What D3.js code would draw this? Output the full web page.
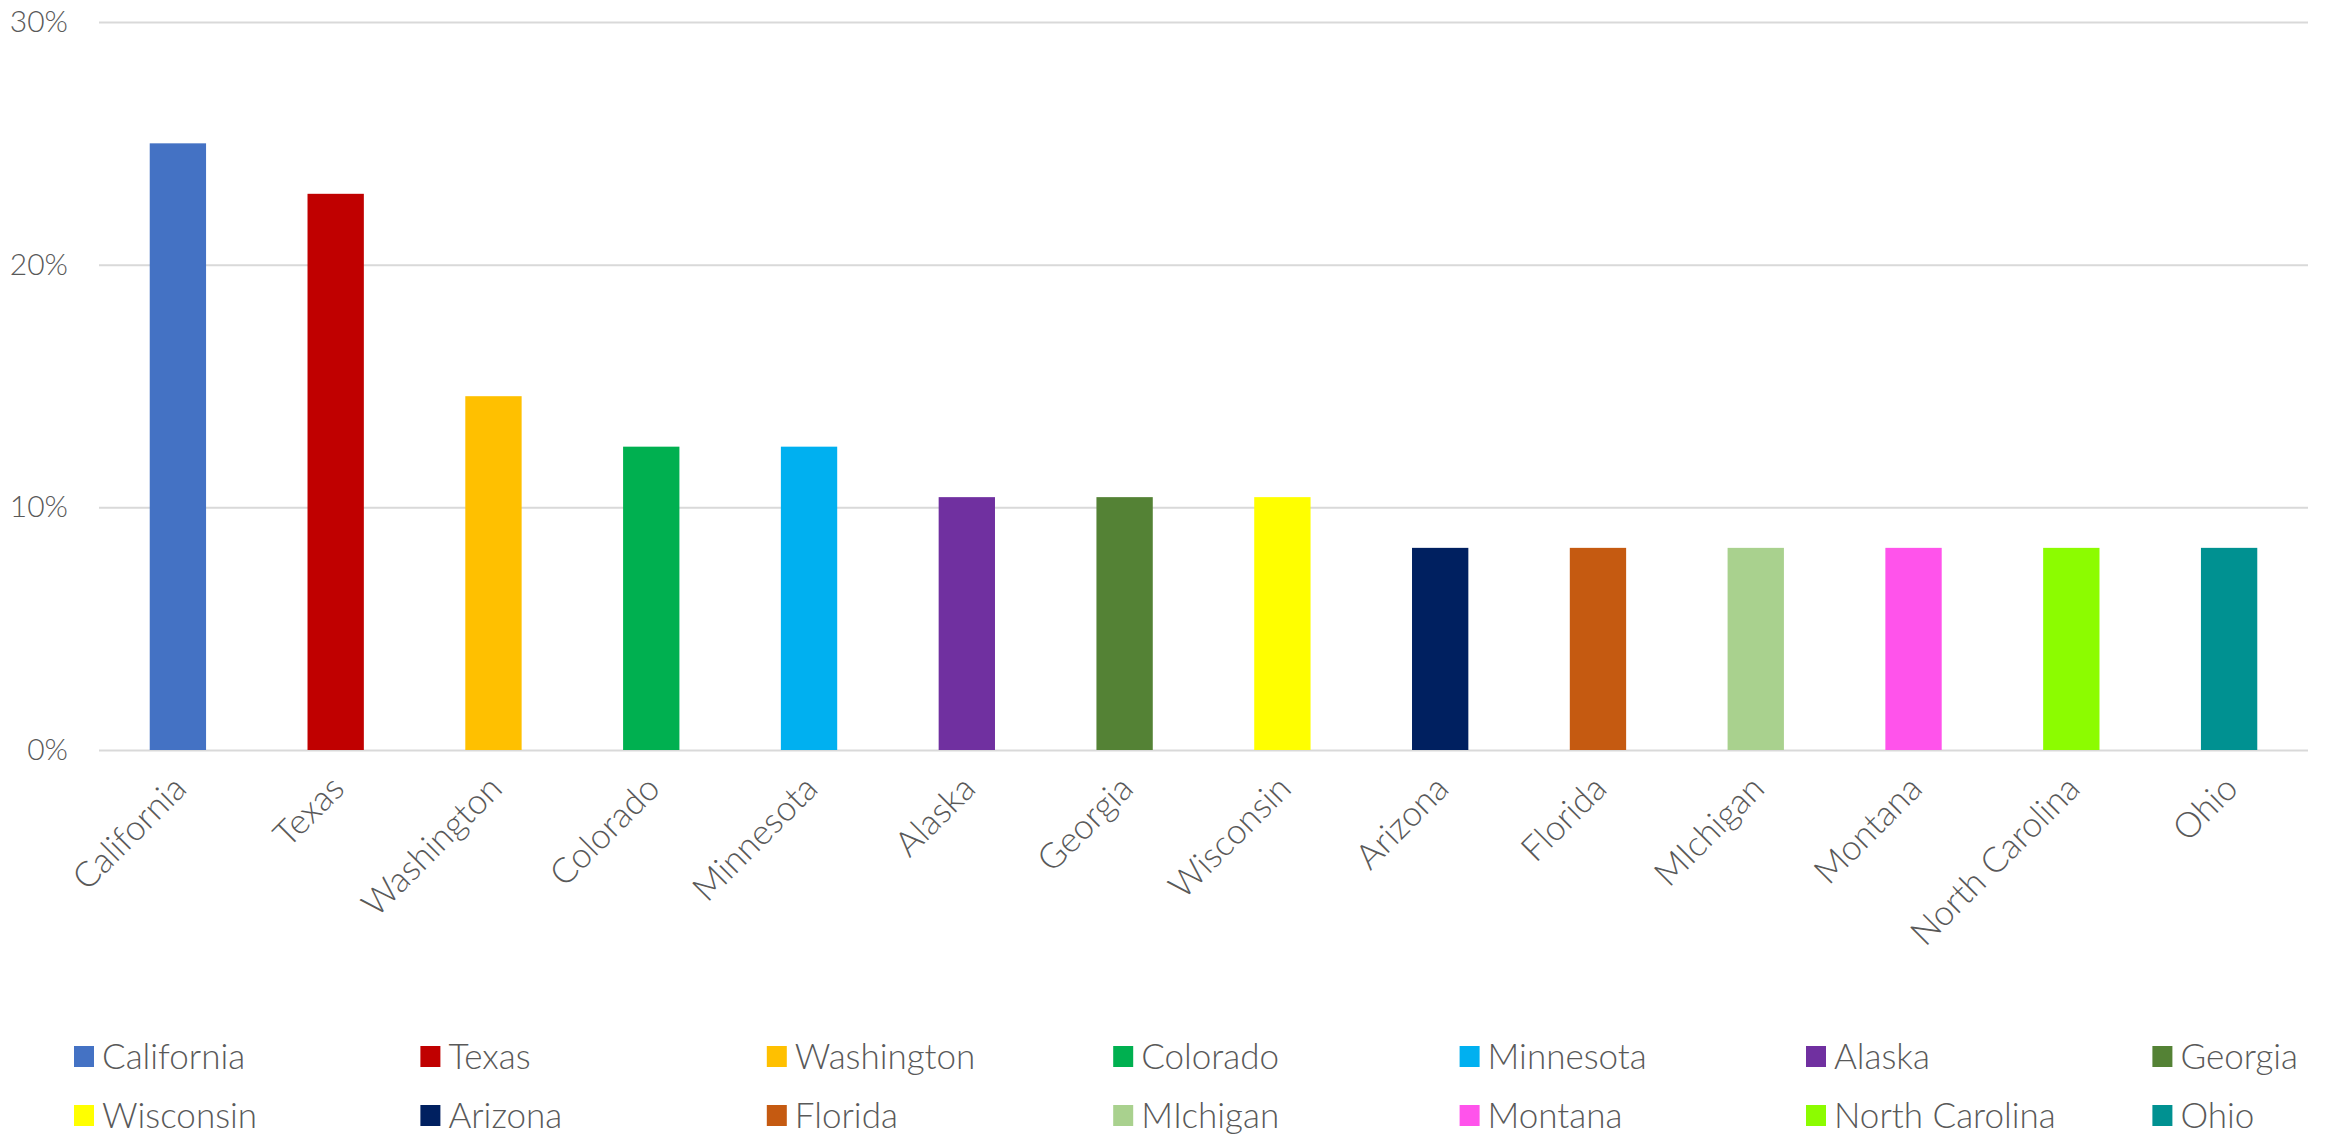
<!DOCTYPE html>
<html>
<head>
<meta charset="utf-8">
<script src="https://cdn.jsdelivr.net/npm/d3@7"></script>
<style>
  body { margin: 0; background: #fff; }
  text { font-family: Lato, "Open Sans", sans-serif; font-weight: 300; fill: #595959; }
</style>
</head>
<body>
<div id="chart"></div>
<script>
var states = ['California', 'Texas', 'Washington', 'Colorado', 'Minnesota', 'Alaska', 'Georgia',
	'Wisconsin', 'Arizona', 'Florida', 'MIchigan', 'Montana', 'North Carolina', 'Ohio'];
var shares = [25, 22.92, 14.58, 12.5, 12.5, 10.42, 10.42, 10.42, 8.33, 8.33, 8.33, 8.33, 8.33, 8.33];
var colors = ['#4472C4', '#C00000', '#FFC000', '#00B050', '#00B0F0', '#7030A0', '#548235',
	'#FFFF00', '#002060', '#C55A11', '#A9D18E', '#FF53EB', '#8CFC00', '#009191'];
var yTicks = [0, 10, 20, 30];

var width = 2326;
var height = 1134;
var plot = {left: 99, right: 2308, top: 22, bottom: 750};

var svg = d3.select("#chart").append("svg")
	.attr("width", width)
	.attr("height", height);

/* Scales */
var xScale = d3.scaleBand()
	.domain(states)
	.range([plot.left, plot.right])
	.paddingInner(0.643)
	.paddingOuter(0.3215);

var yScale = d3.scaleLinear()
	.domain([0, 30])
	.range([plot.bottom, plot.top]);

/* Gridlines + y labels */
var yAxis = d3.axisLeft(yScale)
	.tickValues(yTicks)
	.tickSize(-(plot.right - plot.left))
	.tickPadding(31)
	.tickFormat(d => d + "%");

var gy = svg.append("g")
	.attr("transform", `translate(${plot.left}, 0)`)
	.call(yAxis);
gy.select(".domain").remove();
gy.selectAll("line").attr("stroke", "#d9d9d9").attr("stroke-width", 2);
gy.selectAll("text").style("font-size", "30px").attr("fill", "#595959");

/* Bars */
svg.append("g").selectAll("rect")
	.data(states).enter()
	.append("rect")
	.attr("x", d => xScale(d))
	.attr("y", (d, i) => yScale(shares[i]))
	.attr("width", xScale.bandwidth())
	.attr("height", (d, i) => yScale(0) - yScale(shares[i]))
	.attr("fill", (d, i) => colors[i]);

/* x labels, rotated */
var xAxis = d3.axisBottom(xScale).tickSize(0).tickPadding(0);
var gx = svg.append("g")
	.attr("transform", `translate(0, ${plot.bottom})`)
	.call(xAxis);
gx.select(".domain").remove();
gx.selectAll("text")
	.style("font-size", "35px")
	.attr("fill", "#595959")
	.attr("text-anchor", "end")
	.attr("dy", "0.35em")
	.attr("transform", "translate(2, 32) rotate(-45)");

/* Legend */
var legend = svg.append("g").selectAll("g")
	.data(states).enter()
	.append("g")
	.attr("transform", (d, i) => `translate(${74 + (i % 7) * 346.4}, ${1046 + Math.floor(i / 7) * 59})`);

legend.append("rect")
	.attr("width", 20)
	.attr("height", 21)
	.attr("fill", (d, i) => colors[i]);

legend.append("text")
	.attr("x", 28)
	.attr("y", 10.5)
	.attr("dy", "0.35em")
	.style("font-size", "35px")
	.text(d => d);
</script>
</body>
</html>
